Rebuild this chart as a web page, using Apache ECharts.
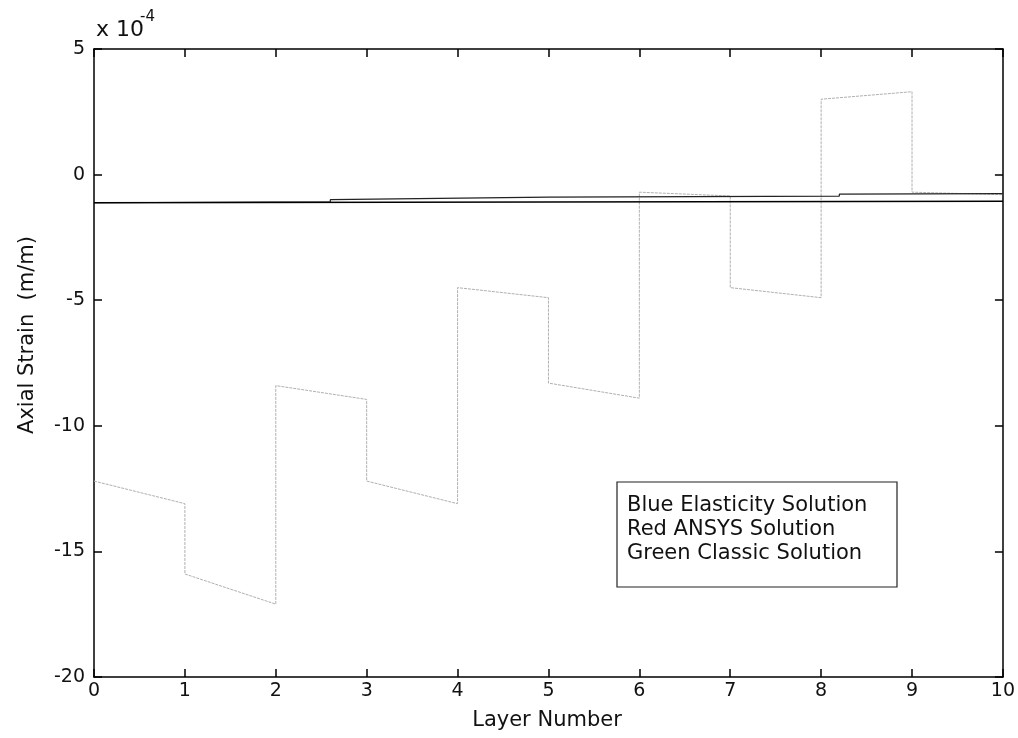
<!DOCTYPE html>
<html>
<head>
<meta charset="utf-8">
<script src="https://cdn.jsdelivr.net/npm/echarts@6/dist/echarts.min.js"></script>
<style>
  html, body { margin: 0; padding: 0; background: #fff; }
  #chart { width: 1018px; height: 738px; }
</style>
</head>
<body>
<div id="chart"></div>
<script>
// Axial strain through the laminate (units of 1e-4 m/m), layer by layer.
// Each layer contributes a start and end point; jumps happen at layer interfaces.
const layerX = [0, 1, 1, 2, 2, 3, 3, 4, 4, 5, 5, 6, 6, 7, 7, 8, 8, 9, 9, 10];
const elasticityStrain = [-12.2, -13.1, -15.9, -17.1, -8.4, -8.95, -12.2, -13.1, -4.5, -4.9,
                          -8.3, -8.9, -0.7, -0.85, -4.5, -4.9, 3.0, 3.3, -0.7, -0.8];

const ansysX = [0, 2.6, 2.6, 5, 8.2, 8.2, 10];
const ansysStrain = [-1.12, -1.08, -1.0, -0.9, -0.86, -0.78, -0.76];

const classicX = [0, 10];
const classicStrain = [-1.12, -1.06];

const xTicks = { min: 0, max: 10, step: 1 };
const yTicks = { min: -20, max: 5, step: 5 };

const legendLines = ['Blue Elasticity Solution', 'Red ANSYS Solution', 'Green Classic Solution'];

const pair = (xs, ys) => xs.map((x, i) => [x, ys[i]]);

const font = '"DejaVu Sans", sans-serif';
const chart = echarts.init(document.getElementById('chart'), null, { renderer: 'canvas' });

const frameLine = { show: true, onZero: false, lineStyle: { color: '#000', width: 1.5 } };
const innerTick = { show: true, inside: true, length: 8, lineStyle: { color: '#000', width: 1.5 } };
const tickText = { color: '#111', fontSize: 19, fontFamily: font };

chart.setOption({
  animation: false,
  backgroundColor: '#fff',
  grid: { left: 94, right: 12, top: 49, bottom: 61 },
  xAxis: [
    {
      type: 'value', min: xTicks.min, max: xTicks.max, interval: xTicks.step,
      position: 'bottom',
      axisLine: frameLine, axisTick: innerTick,
      axisLabel: Object.assign({ margin: 5 }, tickText),
      splitLine: { show: false }
    },
    {
      type: 'value', min: xTicks.min, max: xTicks.max, interval: xTicks.step,
      position: 'top',
      axisLine: frameLine, axisTick: innerTick,
      axisLabel: { show: false }, splitLine: { show: false }
    }
  ],
  yAxis: [
    {
      type: 'value', min: yTicks.min, max: yTicks.max, interval: yTicks.step,
      position: 'left',
      axisLine: frameLine, axisTick: innerTick,
      axisLabel: Object.assign({ margin: 9 }, tickText),
      splitLine: { show: false }
    },
    {
      type: 'value', min: yTicks.min, max: yTicks.max, interval: yTicks.step,
      position: 'right',
      axisLine: frameLine, axisTick: innerTick,
      axisLabel: { show: false }, splitLine: { show: false }
    }
  ],
  series: [
    {
      name: 'Elasticity', type: 'line', data: pair(layerX, elasticityStrain),
      showSymbol: false, lineStyle: { color: '#b0b0b0', width: 1, type: [3, 1] }, z: 2
    },
    {
      name: 'ANSYS', type: 'line', data: pair(ansysX, ansysStrain),
      showSymbol: false, lineStyle: { color: '#222', width: 1.2 }, z: 3
    },
    {
      name: 'Classic', type: 'line', data: pair(classicX, classicStrain),
      showSymbol: false, lineStyle: { color: '#000', width: 1.6 }, z: 4
    }
  ],
  graphic: [
    // axis titles
    {
      type: 'text', x: 547, y: 721,
      style: { text: 'Layer Number', fill: '#111', font: '21px ' + font, align: 'center', verticalAlign: 'middle' }
    },
    {
      type: 'text', x: 28, y: 335, rotation: Math.PI / 2,
      style: { text: 'Axial Strain  (m/m)', fill: '#111', font: '21px ' + font, align: 'center', verticalAlign: 'middle' }
    },
    // exponent multiplier
    {
      type: 'text', x: 96, y: 30,
      style: { text: 'x 10', fill: '#111', font: '22px ' + font, verticalAlign: 'middle' }
    },
    {
      type: 'text', x: 140, y: 17,
      style: { text: '-4', fill: '#111', font: '15px ' + font, verticalAlign: 'middle' }
    },
    // legend box
    {
      type: 'group', x: 617, y: 482,
      children: [
        { type: 'rect', shape: { x: 0, y: 0, width: 280, height: 105 },
          style: { fill: '#fff', stroke: '#222', lineWidth: 1.2 } },
        ...legendLines.map((t, i) => ({
          type: 'text', x: 10, y: 24 + i * 24,
          style: { text: t, fill: '#111', font: '21px ' + font, verticalAlign: 'middle' }
        }))
      ]
    }
  ]
});
</script>
</body>
</html>
